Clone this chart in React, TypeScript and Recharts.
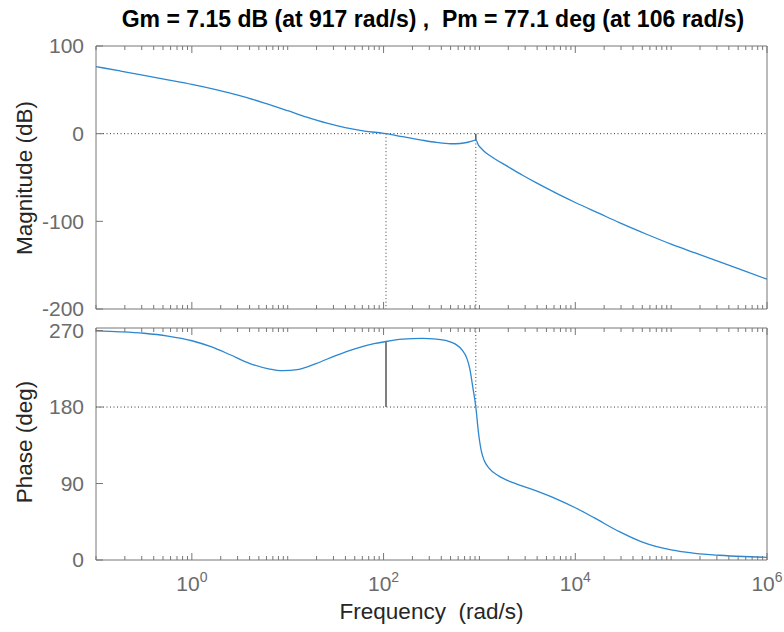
import React from 'react';
import { LineChart, Line, XAxis, YAxis, ReferenceLine } from 'recharts';

// ---- data ----
const magFreq = [0.1, 0.178, 0.316, 0.562, 1, 1.78, 3.16, 5.62, 10, 15.8, 25.1, 39.8, 63.1, 100, 106, 158, 240, 355, 501, 631, 759, 851, 917, 977, 1072, 1175, 1413, 1905, 2818, 3981, 6310, 10000, 17780, 28840, 56230, 100000, 177800, 316200, 562300, 1000000];
const magDb = [76.5, 71.5, 66.5, 61.4, 56.2, 50.2, 43.4, 35.2, 26.2, 18.8, 12.2, 6.9, 3, 0.4, 0, -3.5, -7, -10, -11.5, -11.2, -9.8, -8.3, -7.15, -13, -18, -22, -28, -36.5, -47.5, -56.5, -67.8, -78.5, -91, -101.5, -115, -126, -136, -146, -156, -166];

const phaseFreq = [0.1, 0.178, 0.316, 0.562, 1, 1.58, 2.51, 3.98, 6.31, 8.91, 12.6, 20, 31.6, 50.1, 79.4, 106, 158, 251, 355, 457, 562, 661, 741, 794, 851, 917, 977, 1047, 1122, 1259, 1585, 2239, 3981, 6310, 10000, 15850, 28840, 50120, 100000, 177800, 316200, 562300, 1000000];
const phaseDeg = [269.5, 268.5, 266.8, 263.5, 258, 251, 241.5, 231.5, 225, 222.8, 224, 231.4, 240.5, 248.5, 254.5, 257.1, 259.8, 260.8, 260, 258, 254, 247, 237, 225, 204, 180, 150, 128, 117, 108, 99, 91, 81, 72, 61.5, 49.5, 33.3, 21, 11.8, 7.8, 5.6, 4.1, 3.1];

const magTicks = [-200, -100, 0, 100];
const phaseTicks = [0, 90, 180, 270];
const gainMargin = { freq: 917, db: -7.15 };
const phaseMargin = { freq: 106, deg: 77.1 };
const titleText = 'Gm = 7.15 dB (at 917 rad/s) ,  Pm = 77.1 deg (at 106 rad/s)';
const magLabel = 'Magnitude (dB)';
const phaseLabel = 'Phase (deg)';
const freqLabel = 'Frequency  (rad/s)';

const magData = magFreq.map((f, i) => ({ f, v: magDb[i] }));
const phaseData = phaseFreq.map((f, i) => ({ f, v: phaseDeg[i] }));

// log-axis tick positions (1..9 per decade)
const freqTicks: number[] = [];
for (let d = -1; d < 6; d++) {
  for (let k = 1; k <= 9; k++) freqTicks.push(Number((k * Math.pow(10, d)).toPrecision(3)));
}
freqTicks.push(1e6);

const FONT = '"Liberation Sans", Arial, Helvetica, sans-serif';
const AXIS = '#767676';
const TICK = '#6b6b6b';
const LABEL = '#262626';
const BLUE = '#2b87d1';
const DOT = '#3a3a3a';

function makeXTick(side: 'top' | 'bottom', showLabels: boolean) {
  return (props: any) => {
    const { x, y, payload } = props;
    const v = payload.value;
    const lg = Math.log10(v);
    const r = Math.round(lg);
    const decade = Math.abs(lg - r) < 1e-6;
    const major = decade && r % 2 === 0;
    const len = major ? 7 : 4;
    const dir = side === 'bottom' ? -1 : 1;
    return (
      <g>
        <line x1={x} x2={x} y1={y} y2={y + dir * len} stroke={AXIS} strokeWidth={1} />
        {showLabels && major && (
          <text x={x} y={y + 31} textAnchor="middle" fill={TICK} fontSize={21} fontFamily={FONT}>
            <tspan>10</tspan>
            <tspan dy={-9} fontSize={14}>{r}</tspan>
          </text>
        )}
      </g>
    );
  };
}

function makeYTick(side: 'left' | 'right', showLabels: boolean) {
  return (props: any) => {
    const { x, y, payload } = props;
    const dir = side === 'left' ? 1 : -1;
    return (
      <g>
        <line x1={x} x2={x + dir * 7} y1={y} y2={y} stroke={AXIS} strokeWidth={1} />
        {showLabels && (
          <text x={x - 12} y={y} dy="0.35em" textAnchor="end" fill={TICK} fontSize={21} fontFamily={FONT}>
            {payload.value}
          </text>
        )}
      </g>
    );
  };
}

const dotted = { stroke: DOT, strokeWidth: 1, strokeDasharray: '1 2.5' };

export default function App() {
  return (
    <div style={{ position: 'absolute', left: 0, top: 0, width: 784, height: 632, background: '#fff' }}>
      <div style={{ position: 'absolute', left: 0, top: 0 }}>
        <LineChart width={784} height={320} data={magData} margin={{ top: 45, right: 16, bottom: 10, left: 0 }}>
          <XAxis xAxisId="b" dataKey="f" type="number" scale="log" domain={[0.1, 1e6]} allowDataOverflow
            ticks={freqTicks} interval={0} height={1} tickSize={0} tickMargin={0} tickLine={false}
            axisLine={{ stroke: AXIS }} tick={makeXTick('bottom', false)} />
          <XAxis xAxisId="t" orientation="top" dataKey="f" type="number" scale="log" domain={[0.1, 1e6]} allowDataOverflow
            ticks={freqTicks} interval={0} height={1} tickSize={0} tickMargin={0} tickLine={false}
            axisLine={{ stroke: AXIS }} tick={makeXTick('top', false)} />
          <YAxis yAxisId="l" type="number" domain={[-200, 100]} ticks={magTicks} interval={0} width={96}
            tickSize={0} tickMargin={0} tickLine={false} axisLine={{ stroke: AXIS }} tick={makeYTick('left', true)} />
          <YAxis yAxisId="r" orientation="right" type="number" domain={[-200, 100]} ticks={magTicks} interval={0} width={1}
            tickSize={0} tickMargin={0} tickLine={false} axisLine={{ stroke: AXIS }} tick={makeYTick('right', false)} />
          <ReferenceLine xAxisId="b" yAxisId="l" y={0} {...dotted} />
          <ReferenceLine xAxisId="b" yAxisId="l" segment={[{ x: phaseMargin.freq, y: 0 }, { x: phaseMargin.freq, y: -200 }]} {...dotted} />
          <ReferenceLine xAxisId="b" yAxisId="l" segment={[{ x: gainMargin.freq, y: gainMargin.db }, { x: gainMargin.freq, y: -200 }]} {...dotted} />
          <ReferenceLine xAxisId="b" yAxisId="l" segment={[{ x: gainMargin.freq, y: 0 }, { x: gainMargin.freq, y: gainMargin.db }]} stroke="#555" strokeWidth={1.5} />
          <Line xAxisId="b" yAxisId="l" dataKey="v" type="monotone" stroke={BLUE} strokeWidth={1.3} dot={false} isAnimationActive={false} />
        </LineChart>
      </div>
      <div style={{ position: 'absolute', left: 0, top: 315 }}>
        <LineChart width={784} height={317} data={phaseData} margin={{ top: 12, right: 16, bottom: 12, left: 0 }}>
          <XAxis xAxisId="b" dataKey="f" type="number" scale="log" domain={[0.1, 1e6]} allowDataOverflow
            ticks={freqTicks} interval={0} height={60} tickSize={0} tickMargin={0} tickLine={false}
            axisLine={{ stroke: AXIS }} tick={makeXTick('bottom', true)} />
          <XAxis xAxisId="t" orientation="top" dataKey="f" type="number" scale="log" domain={[0.1, 1e6]} allowDataOverflow
            ticks={freqTicks} interval={0} height={1} tickSize={0} tickMargin={0} tickLine={false}
            axisLine={{ stroke: AXIS }} tick={makeXTick('top', false)} />
          <YAxis yAxisId="l" type="number" domain={[0, 273]} ticks={phaseTicks} interval={0} width={96}
            tickSize={0} tickMargin={0} tickLine={false} axisLine={{ stroke: AXIS }} tick={makeYTick('left', true)} />
          <YAxis yAxisId="r" orientation="right" type="number" domain={[0, 273]} ticks={phaseTicks} interval={0} width={1}
            tickSize={0} tickMargin={0} tickLine={false} axisLine={{ stroke: AXIS }} tick={makeYTick('right', false)} />
          <ReferenceLine xAxisId="b" yAxisId="l" y={180} {...dotted} />
          <ReferenceLine xAxisId="b" yAxisId="l" segment={[{ x: gainMargin.freq, y: 273 }, { x: gainMargin.freq, y: 180 }]} {...dotted} />
          <ReferenceLine xAxisId="b" yAxisId="l" segment={[{ x: phaseMargin.freq, y: 180 }, { x: phaseMargin.freq, y: 180 + phaseMargin.deg }]} stroke="#555" strokeWidth={1.5} />
          <Line xAxisId="b" yAxisId="l" dataKey="v" type="monotone" stroke={BLUE} strokeWidth={1.3} dot={false} isAnimationActive={false} />
        </LineChart>
      </div>
      <svg width={784} height={632} style={{ position: 'absolute', left: 0, top: 0, pointerEvents: 'none' }}>
        <text x={433} y={19} dy="0.35em" textAnchor="middle" fontWeight="bold" fontSize={23} fontFamily={FONT} fill="#000" style={{ whiteSpace: 'pre' }}>
          {titleText}
        </text>
        <text x={24} y={178} dy="0.35em" textAnchor="middle" fontSize={22.5} fontFamily={FONT} fill={LABEL} transform="rotate(-90 24 178)">
          {magLabel}
        </text>
        <text x={24} y={442} dy="0.35em" textAnchor="middle" fontSize={22.5} fontFamily={FONT} fill={LABEL} transform="rotate(-90 24 442)">
          {phaseLabel}
        </text>
        <text x={431.5} y={611} dy="0.35em" textAnchor="middle" fontSize={22.5} fontFamily={FONT} fill={LABEL} style={{ whiteSpace: 'pre' }}>
          {freqLabel}
        </text>
      </svg>
    </div>
  );
}
